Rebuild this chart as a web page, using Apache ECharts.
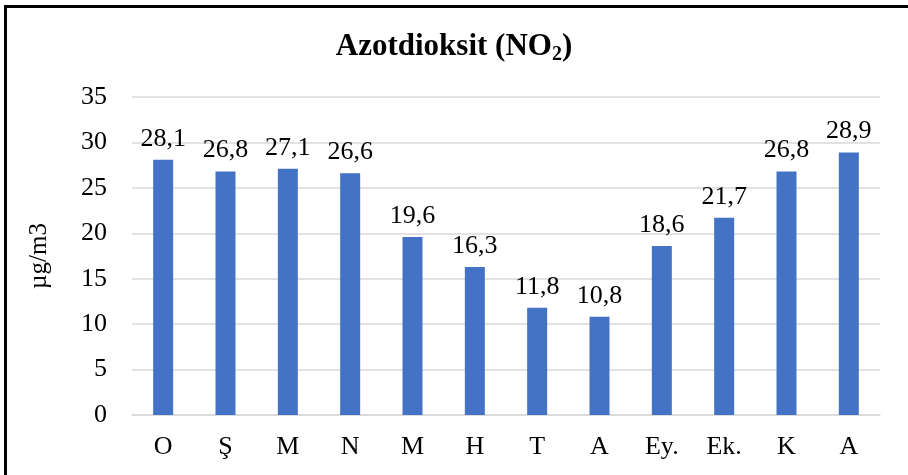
<!DOCTYPE html>
<html>
<head>
<meta charset="utf-8">
<script src="https://cdn.jsdelivr.net/npm/echarts@6/dist/echarts.min.js"></script>
<style>
  html, body { margin: 0; padding: 0; background: #fff; }
  #frame { position: absolute; left: 4px; top: 5px; width: 920px; height: 480px; border-left: 3px solid #000; border-top: 3px solid #000; }
  #chart { position: absolute; left: 0; top: 0; width: 908px; height: 475px; }
</style>
</head>
<body>
<div id="frame"></div>
<div id="chart"></div>
<script>
const months = ['O', 'Ş', 'M', 'N', 'M', 'H', 'T', 'A', 'Ey.', 'Ek.', 'K', 'A'];
const no2Values = [28.1, 26.8, 27.1, 26.6, 19.6, 16.3, 11.8, 10.8, 18.6, 21.7, 26.8, 28.9];
const yTicks = { min: 0, max: 35, interval: 5 };

const serif = '"Liberation Serif", "Times New Roman", serif';
const chart = echarts.init(document.getElementById('chart'));

chart.setOption({
  animation: false,
  title: {
    text: 'Azotdioksit (NO{sub|2})',
    left: 'center',
    top: 24,
    textStyle: {
      fontFamily: serif,
      fontSize: 31,
      fontWeight: 'bold',
      color: '#000',
      rich: {
        sub: { fontFamily: serif, fontSize: 20, fontWeight: 'bold', color: '#000', verticalAlign: 'bottom', padding: [16, 0, 0, 0] }
      }
    }
  },
  grid: { left: 132, right: 28, top: 97, bottom: 60, containLabel: false },
  xAxis: {
    type: 'category',
    data: months,
    axisLine: { lineStyle: { color: '#d9d9d9', width: 1.5 } },
    axisTick: { show: false },
    axisLabel: { fontFamily: serif, fontSize: 26, color: '#000', margin: 19 }
  },
  yAxis: {
    type: 'value',
    min: yTicks.min,
    max: yTicks.max,
    interval: yTicks.interval,
    name: 'µg/m3',
    nameLocation: 'middle',
    nameGap: 80,
    nameRotate: 90,
    nameTextStyle: { fontFamily: serif, fontSize: 25, color: '#000' },
    axisLine: { show: false },
    axisTick: { show: false },
    axisLabel: { fontFamily: serif, fontSize: 26, color: '#000', margin: 25 },
    splitLine: { lineStyle: { color: '#d9d9d9', width: 1.5 } }
  },
  series: [{
    type: 'bar',
    data: no2Values,
    barWidth: 20,
    itemStyle: { color: '#4472c4' },
    label: {
      show: true,
      position: 'top',
      distance: 8,
      fontFamily: serif,
      fontSize: 26,
      color: '#000',
      formatter: p => String(p.value).replace('.', ',')
    }
  }]
});
</script>
</body>
</html>
